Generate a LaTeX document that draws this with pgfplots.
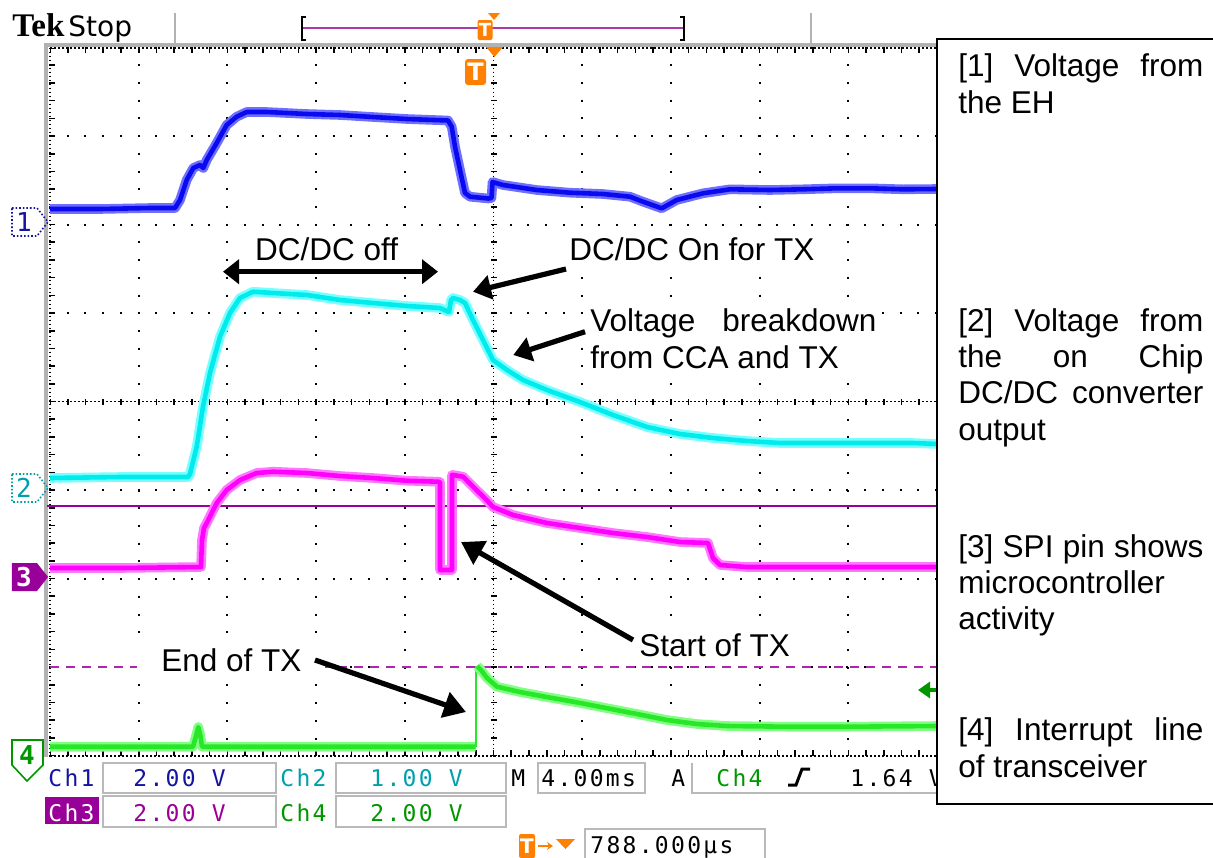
\documentclass[border=0pt]{standalone}
\usepackage{pgfplots}
\pgfplotsset{compat=1.18}
\usepackage{pgfplotstable}
\usetikzlibrary{arrows.meta}
\usepackage{fontspec}
\setmainfont{Liberation Sans}
\newfontfamily\scopefont[LetterSpace=10]{DejaVu Sans Mono}
\newfontfamily\tekfont{Liberation Serif}
\newfontfamily\dvsans{DejaVu Sans}

\definecolor{chone}{RGB}{20,20,160}
\definecolor{chtwo}{RGB}{0,160,170}
\definecolor{chthree}{RGB}{153,0,153}
\definecolor{chfour}{RGB}{0,150,0}
\definecolor{tekorange}{RGB}{255,128,0}
\definecolor{bluecore}{RGB}{10,10,240}
\definecolor{blueglow}{RGB}{110,110,255}
\definecolor{cyancore}{RGB}{0,235,235}
\definecolor{cyanglow}{RGB}{120,255,255}
\definecolor{magcore}{RGB}{255,0,255}
\definecolor{magglow}{RGB}{255,120,255}
\definecolor{grncore}{RGB}{40,230,40}
\definecolor{grnglow}{RGB}{130,255,130}
\definecolor{trigdash}{RGB}{170,40,170}
\definecolor{barline}{RGB}{170,60,170}

\newcommand\ann{\fontsize{15.75}{18.15}\selectfont}
\newcommand\scp{\scopefont\fontsize{11.5}{13}\selectfont}

% Ch1: voltage from the energy harvester (screen units: px, y downward)
\pgfplotstableread{
x y
50 209
100 209
150 208
175 208
180 200
186.7 180
193.3 168
200 165
203.3 168
206.7 160
216.7 143
226.7 125
236.7 116.7
246.7 112
266.7 112
306.7 114
340 115
373 117
406.7 119
448 120.5
451.7 126.7
455 146.7
460 170
465 193
470 196.7
488.3 198.5
491.5 198
492.5 182
503 185
536.7 190
570 192.7
603 194
630 196.7
643 201.7
661.7 208.3
676.7 200
703 193.3
730 189.3
770 190
803 189.3
836.7 188.3
870 188.3
903 189.3
937 189
}\chA

% Ch2: on-chip DC/DC converter output
\pgfplotstableread{
x y
50 478
120 477
188 477
190 474
196.7 446.7
203 406.7
210 373
220 336.7
230 313
240 298
253 291.7
273 293
307 295
340 300
373 303
407 306
440 308
449 312
451 300
453 298
460 300
465 303
473 320
483 340
493 360
507 370
523 380
547 390
580 402
613 415
647 427
680 434
713 438
747 441
780 443
813 443
847 443
880 443
913 443
937 444
}\chB

% Ch3: SPI pin
\pgfplotstableread{
x y
50 568
120 568
201 567
202 540
204 528
206.7 523
216.7 503
226.7 490
240 480
256.7 473
273 471.7
306.7 473
340 476
373 478
406.7 480.7
438 481.7
440 482
440 570
452 570
452 475
453 475
463 476.7
473 486.7
486.7 500
493 507
513 515
547 523
580 528
613 533
647 537
680 542
708 543
713 558
720 565
747 567
800 567
937 567
}\chC

% Ch4: interrupt line of transceiver
\pgfplotstableread{
x y
50 746.7
193 746.7
196 736
198.3 727
200.5 736
202 746.7
475.5 746.7
}\chDa
\pgfplotstableread{
x y
476 746.7
476 666
}\chDb
\pgfplotstableread{
x y
477 666
481 670
487 678
497 686.7
520 692
545 696.7
575 702
606 708
637 714
667 720
697 724
727 726
788 726.7
848 726.7
937 726
}\chDc

\begin{document}
\begin{tikzpicture}
\begin{axis}[
  scale only axis, width=443.5pt, height=354.1pt,
  xmin=50, xmax=937, ymin=47.5, ymax=755.7, y dir=reverse,
  axis line style={draw=none}, tick style={draw=none},
  xticklabel=\empty, yticklabel=\empty,
  xtick={138.7,227.4,316.1,404.8,582.2,670.9,759.6,848.3},
  ytick={136.0,224.6,313.1,490.1,578.7,667.2},
  grid=major,
  major grid style={black, line width=1pt, dash pattern=on 1pt off 7.86pt, dash phase=0.5pt},
  clip=false,
]
% ---- bounding coordinates
\coordinate (TL) at (axis cs:0,0);
\coordinate (BR) at (axis cs:1213,857);

% ---- graticule centre lines and edges
\draw[line width=0.8pt, dash pattern=on 0.8pt off 1.2pt] (axis cs:50,401.6) -- (axis cs:937,401.6);
\draw[line width=3pt, dash pattern=on 0.8pt off 8.07pt, dash phase=0.4pt] (axis cs:50,401.6) -- (axis cs:937,401.6);
\draw[line width=0.8pt, dash pattern=on 0.8pt off 1.2pt] (axis cs:493.5,47.5) -- (axis cs:493.5,755.7);
\draw[line width=3pt, dash pattern=on 0.8pt off 8.05pt, dash phase=0.4pt] (axis cs:493.5,47.5) -- (axis cs:493.5,755.7);
% edges
\draw[gray!60, line width=2pt] (axis cs:44,44.5) -- (axis cs:937,44.5);
\draw[gray!60, line width=2pt] (axis cs:46,44) -- (axis cs:46,757);
\draw[line width=0.8pt, dash pattern=on 0.8pt off 1.2pt] (axis cs:50,755.7) -- (axis cs:937,755.7);
\draw[line width=0.8pt, dash pattern=on 0.8pt off 1.2pt] (axis cs:50,48) -- (axis cs:937,48);
\draw[line width=0.8pt, dash pattern=on 0.8pt off 1.2pt] (axis cs:50,47.5) -- (axis cs:50,755.7);
\draw[line width=3pt, dash pattern=on 0.8pt off 8.07pt, dash phase=0.4pt] (axis cs:50,50) -- (axis cs:937,50);
\draw[line width=3pt, dash pattern=on 0.8pt off 8.07pt, dash phase=0.4pt] (axis cs:50,753) -- (axis cs:937,753);
\draw[line width=3pt, dash pattern=on 0.8pt off 8.05pt, dash phase=0.4pt] (axis cs:52.5,47.5) -- (axis cs:52.5,755.7);

% ---- reference lines
\draw[chthree, line width=0.8pt] (axis cs:47,506) -- (axis cs:937,506);
\draw[trigdash, line width=1pt, dash pattern=on 4.5pt off 3.5pt] (axis cs:50,666.7) -- (axis cs:937,666.7);

% ---- traces
\addplot[blueglow, line width=4.8pt, line join=round, no markers] table {\chA};
\addplot[bluecore, line width=2.3pt, line join=round, no markers] table {\chA};
\addplot[cyanglow, line width=4.8pt, line join=round, no markers] table {\chB};
\addplot[cyancore, line width=2.3pt, line join=round, no markers] table {\chB};
\addplot[magglow, line width=4.8pt, line join=round, no markers] table {\chC};
\addplot[magcore, line width=2.3pt, line join=round, no markers] table {\chC};
\addplot[grnglow, line width=4.8pt, line join=round, no markers] table {\chDa};
\addplot[grncore, line width=2.3pt, line join=round, no markers] table {\chDa};
\addplot[grncore, line width=0.8pt, no markers] table {\chDb};
\addplot[grnglow, line width=4.8pt, line join=round, no markers] table {\chDc};
\addplot[grncore, line width=2.3pt, line join=round, no markers] table {\chDc};

% ---- channel ground markers
\draw[chone, line width=0.8pt, densely dotted] (axis cs:12,208) -- (axis cs:37,208) -- (axis cs:48,222) -- (axis cs:37,236) -- (axis cs:12,236) -- cycle;
\node[chone, font=\scp\fontsize{13}{14}\selectfont] at (axis cs:24,222) {1};
\draw[chtwo, line width=0.8pt, densely dotted] (axis cs:12,474) -- (axis cs:37,474) -- (axis cs:48,488) -- (axis cs:37,502) -- (axis cs:12,502) -- cycle;
\node[chtwo, font=\scp\fontsize{13}{14}\selectfont] at (axis cs:24,488) {2};
\fill[chthree] (axis cs:12,563) -- (axis cs:37,563) -- (axis cs:48,577) -- (axis cs:37,591) -- (axis cs:12,591) -- cycle;
\node[white, font=\scp\fontsize{13}{14}\selectfont\bfseries] at (axis cs:24,577) {3};
\draw[chfour, line width=0.8pt] (axis cs:12,740) -- (axis cs:43,740) -- (axis cs:43,765) -- (axis cs:27,781) -- (axis cs:12,765) -- cycle;
\node[chfour, font=\scp\fontsize{13}{14}\selectfont\bfseries] at (axis cs:27,755) {4};

% trigger level arrow (Ch4)
\draw[chfour, line width=1.8pt, -{Triangle[length=6pt,width=8pt]}] (axis cs:940,690) -- (axis cs:918,690);

% ---- top status bar
\node[anchor=base west, inner sep=0, font=\tekfont\bfseries\fontsize{16.5}{18}\selectfont] at (axis cs:12,36.7) {Tek};
\node[anchor=base west, inner sep=0, font=\dvsans\fontsize{14}{16}\selectfont] at (axis cs:68,36.7) {Stop};
\draw[gray!60, line width=1pt] (axis cs:175,13) -- (axis cs:175,43);
\draw[gray!60, line width=1pt] (axis cs:811,13) -- (axis cs:811,43);
\draw[barline, line width=1pt] (axis cs:302,28) -- (axis cs:684,28);
\draw[black, line width=0.8pt] (axis cs:306,17) -- (axis cs:302,17) -- (axis cs:302,40) -- (axis cs:306,40);
\draw[black, line width=0.8pt] (axis cs:680,17) -- (axis cs:684,17) -- (axis cs:684,40) -- (axis cs:680,40);
\fill[tekorange] (axis cs:488,13) -- (axis cs:500,13) -- (axis cs:494,20) -- cycle;
\node[fill=tekorange, text=white, rounded corners=1pt, minimum width=7.5pt, minimum height=10pt, inner sep=0, font=\dvsans\bfseries\fontsize{9}{10}\selectfont] at (axis cs:485,30) {T};
% trigger position marker
\fill[tekorange] (axis cs:486,47) -- (axis cs:503,47) -- (axis cs:494.5,57) -- cycle;
\node[fill=tekorange, text=white, rounded corners=1.5pt, minimum width=10.5pt, minimum height=13pt, inner sep=0, font=\dvsans\bfseries\fontsize{12}{13}\selectfont] at (axis cs:475.5,72) {T};

% ---- annotations
\node[anchor=base, fill=white, inner xsep=4pt, inner ysep=2pt, font=\ann] at (axis cs:326.7,260.7) {DC/DC off};
\draw[line width=2.6pt, {Triangle[length=8pt,width=12pt]}-{Triangle[length=8pt,width=12pt]}] (axis cs:223,271.7) -- (axis cs:438,271.7);

\node[anchor=base west, fill=white, inner xsep=3pt, inner ysep=2pt, font=\ann] at (axis cs:563,260.7) {DC/DC On for TX};
\draw[line width=2.6pt, -{Triangle[length=9pt,width=12pt]}] (axis cs:566,269) -- (axis cs:473,291.7);

\node[anchor=base west, fill=white, inner xsep=3pt, inner ysep=2pt, font=\ann] at (axis cs:584,331.7)
  {\parbox[t]{143pt}{\makebox[143pt][s]{Voltage breakdown}\\from CCA and TX}};
\draw[line width=2.6pt, -{Triangle[length=9pt,width=12pt]}] (axis cs:585,331.7) -- (axis cs:513.3,355);

\node[anchor=base west, fill=white, inner xsep=12pt, inner ysep=4pt, font=\ann] at (axis cs:615,656.7) {Start of TX};
\draw[line width=2.6pt, -{Triangle[length=11pt,width=13pt]}] (axis cs:633,640) -- (axis cs:461,542);

\node[anchor=base west, fill=white, inner xsep=12pt, inner ysep=4pt, font=\ann] at (axis cs:137,671.7) {End of TX};
\draw[line width=2.6pt, -{Triangle[length=11pt,width=13pt]}] (axis cs:315,660) -- (axis cs:466,712);

% ---- bottom channel readouts
\draw[gray!55, line width=0.8pt] (axis cs:103,763) rectangle (axis cs:276,793);
\draw[gray!55, line width=0.8pt] (axis cs:336,763) rectangle (axis cs:506,793);
\draw[gray!55, line width=0.8pt] (axis cs:538,763) rectangle (axis cs:645,793);
\draw[gray!55, line width=0.8pt] (axis cs:692,763) -- (axis cs:692,793) -- (axis cs:960,793);
\draw[gray!55, line width=0.8pt] (axis cs:103,796) rectangle (axis cs:276,827);
\draw[gray!55, line width=0.8pt] (axis cs:336,796) rectangle (axis cs:506,827);
\draw[gray!55, line width=0.8pt] (axis cs:585,880) -- (axis cs:585,829) -- (axis cs:765,829) -- (axis cs:765,880);
\fill[chthree] (axis cs:45,797) rectangle (axis cs:99,824);

\node[anchor=base west, inner sep=0, text=chone, font=\scp] at (axis cs:48,786) {Ch1};
\node[anchor=base west, inner sep=0, text=chone, font=\scp] at (axis cs:133,786) {2.00 V};
\node[anchor=base west, inner sep=0, text=chtwo, font=\scp] at (axis cs:280,786) {Ch2};
\node[anchor=base west, inner sep=0, text=chtwo, font=\scp] at (axis cs:370,786) {1.00 V};
\node[anchor=base west, inner sep=0, text=black, font=\scp] at (axis cs:511,786) {M};
\node[anchor=base west, inner sep=0, text=black, font=\scp] at (axis cs:541,786) {4.00ms};
\node[anchor=base west, inner sep=0, text=black, font=\scp] at (axis cs:671,786) {A};
\node[anchor=base west, inner sep=0, text=chfour, font=\scp] at (axis cs:716,786) {Ch4};
\draw[black, line width=1.5pt] (axis cs:788,785) -- (axis cs:796,785) -- (axis cs:802,769) -- (axis cs:810,769);
\node[anchor=base west, inner sep=0, text=black, font=\scp] at (axis cs:850,786) {1.64 V};

\node[anchor=base west, inner sep=0, text=white, font=\scp] at (axis cs:48,821) {Ch3};
\node[anchor=base west, inner sep=0, text=chthree, font=\scp] at (axis cs:133,821) {2.00 V};
\node[anchor=base west, inner sep=0, text=chfour, font=\scp] at (axis cs:280,821) {Ch4};
\node[anchor=base west, inner sep=0, text=chfour, font=\scp] at (axis cs:370,821) {2.00 V};

\node[fill=tekorange, text=white, rounded corners=1pt, minimum width=8pt, minimum height=12pt, inner sep=0, font=\dvsans\bfseries\fontsize{10}{11}\selectfont] at (axis cs:527,846) {T};
\draw[tekorange, line width=1pt, -{Stealth[length=3pt,width=4pt]}] (axis cs:538,846) -- (axis cs:553,846);
\fill[tekorange] (axis cs:556,839) -- (axis cs:575,839) -- (axis cs:565.5,849) -- cycle;
\node[anchor=base west, inner sep=0, text=black, font=\scp] at (axis cs:590,853) {788.000µs};

% ---- legend text box at right
\fill[white] (axis cs:937,39) rectangle (axis cs:1230,804);
\draw[black, line width=1pt] (axis cs:1230,39) -- (axis cs:937,39) -- (axis cs:937,804) -- (axis cs:1230,804);
\begin{scope}[every node/.style={anchor=base west, inner sep=0, font=\ann}]
\node at (axis cs:958,76.7) {\makebox[122.5pt][s]{[1] Voltage from}};
\node at (axis cs:958,113.3) {the EH};
\node at (axis cs:958,331.7) {\makebox[122.5pt][s]{[2] Voltage from}};
\node at (axis cs:958,367.7) {\makebox[122.5pt][s]{the on Chip}};
\node at (axis cs:958,403.7) {\makebox[122.5pt][s]{DC/DC converter}};
\node at (axis cs:958,440) {output};
\node at (axis cs:958,557) {\makebox[122.5pt][s]{[3] SPI pin shows}};
\node at (axis cs:958,593.3) {microcontroller};
\node at (axis cs:958,629.7) {activity};
\node at (axis cs:958,740.7) {\makebox[122.5pt][s]{[4] Interrupt line}};
\node at (axis cs:958,777) {of transceiver};
\end{scope}
\end{axis}
\pgfresetboundingbox
\path[use as bounding box] (TL) rectangle (BR);
\end{tikzpicture}
\end{document}
